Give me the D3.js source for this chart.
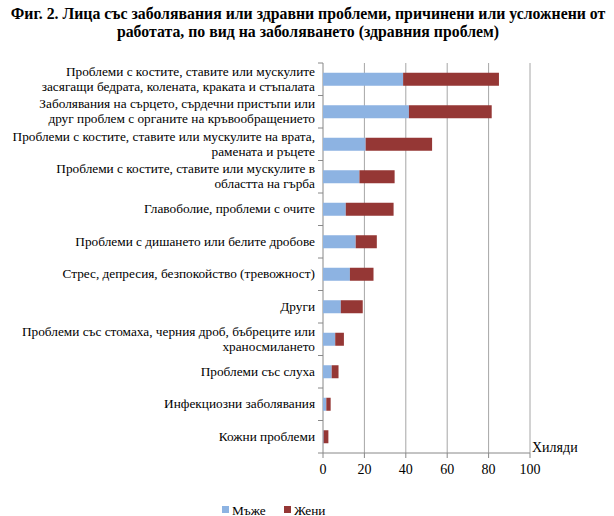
<!DOCTYPE html><html><head><meta charset="utf-8">
<script src="https://cdn.jsdelivr.net/npm/d3@7"></script>
<style>body{margin:0;background:#fff}text{font-family:"Liberation Serif","Times New Roman",serif}</style></head><body>
<svg id="c" width="614" height="516"></svg>
<script>
const categories=[
["Проблеми с костите, ставите или мускулите","засягащи бедрата, колената, краката и стъпалата"],
["Заболявания на сърцето, сърдечни пристъпи или","друг проблем с органите на кръвообращението"],
["Проблеми с костите, ставите или мускулите на врата,","рамената и ръцете"],
["Проблеми с костите, ставите или мускулите в","областта на гърба"],
["Главоболие, проблеми с очите"],
["Проблеми с дишането или белите дробове"],
["Стрес, депресия, безпокойство (тревожност)"],
["Други"],
["Проблеми със стомаха, черния дроб, бъбреците или","храносмилането"],
["Проблеми със слуха"],
["Инфекциозни заболявания"],
["Кожни проблеми"]];
const men=[38.7,41.5,20.6,17.6,11,15.8,13,8.6,5.9,4.2,1.6,0.3];
const women=[46.3,40,32.1,17,23.1,10.2,11.4,10.6,4.2,3.3,2.1,2.3];
const ticks=[0,20,40,60,80,100];
const svg=d3.select("#c");
const x=d3.scaleLinear().domain([0,100]).range([323,530]);
const y=d3.scaleBand().domain(d3.range(12)).range([63,453]).paddingInner(0.6).paddingOuter(0.3);
const band=390/12;
svg.append("text").attr("x",308).attr("y",19).attr("text-anchor","middle").attr("font-weight","bold").attr("font-size",15.8).text("Фиг. 2. Лица със заболявания или здравни проблеми, причинени или усложнени от");
svg.append("text").attr("x",308).attr("y",37).attr("text-anchor","middle").attr("font-weight","bold").attr("font-size",15.8).text("работата, по вид на заболяването (здравния проблем)");
ticks.slice(1).forEach(t=>svg.append("line").attr("x1",x(t)).attr("x2",x(t)).attr("y1",63).attr("y2",453).attr("stroke","#a6a6a6"));
svg.append("line").attr("x1",323).attr("x2",323).attr("y1",63).attr("y2",453).attr("stroke","#888");
for(let i=0;i<=12;i++)svg.append("line").attr("x1",318).attr("x2",323).attr("y1",63+i*band).attr("y2",63+i*band).attr("stroke","#888");
svg.append("line").attr("x1",323).attr("x2",530).attr("y1",453).attr("y2",453).attr("stroke","#888");
ticks.forEach(t=>{svg.append("line").attr("x1",x(t)).attr("x2",x(t)).attr("y1",453).attr("y2",458).attr("stroke","#888");
svg.append("text").attr("x",x(t)).attr("y",474).attr("text-anchor","middle").attr("font-size",14).text(t);});
svg.append("text").attr("x",532).attr("y",452).attr("font-size",14).text("Хиляди");
men.forEach((m,i)=>{
svg.append("rect").attr("x",x(0)).attr("y",y(i)).attr("width",x(m)-x(0)).attr("height",y.bandwidth()).attr("fill","#8db3e2");
svg.append("rect").attr("x",x(m)).attr("y",y(i)).attr("width",x(m+women[i])-x(m)).attr("height",y.bandwidth()).attr("fill","#953735");
const c=63+i*band+band/2, L=categories[i];
L.forEach((s,j)=>svg.append("text").attr("x",315).attr("y",c+4+(j-(L.length-1)/2)*15).attr("text-anchor","end").attr("font-size",13.3).text(s));
});
const lg=[["Мъже","#8db3e2"],["Жени","#953735"]];
lg.forEach((d,i)=>{svg.append("rect").attr("x",222+i*62).attr("y",506).attr("width",7).attr("height",7).attr("fill",d[1]);
svg.append("text").attr("x",232+i*62).attr("y",515).attr("font-size",13.3).text(d[0]);});
</script></body></html>
